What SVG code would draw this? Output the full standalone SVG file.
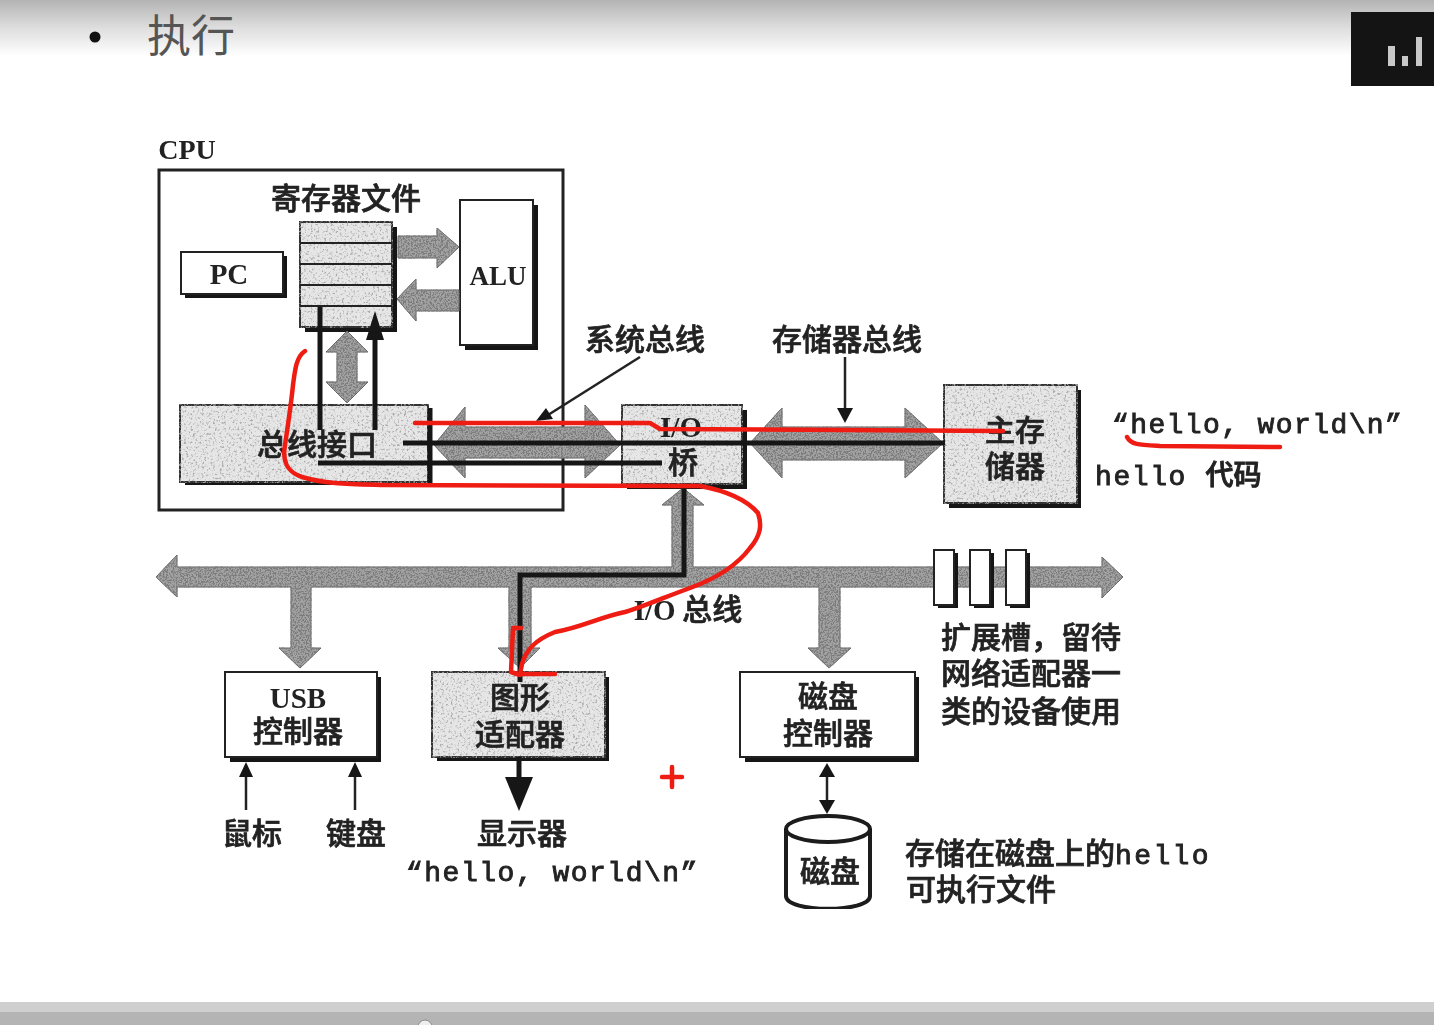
<svg xmlns="http://www.w3.org/2000/svg" width="1434" height="1025" viewBox="0 0 1434 1025">
<style>
text{font-family:"Noto Sans CJK SC","Liberation Sans",sans-serif;font-weight:500;font-size:30px;fill:#222;stroke:#222;stroke-width:.7;text-anchor:middle}
.ser{font-family:"Liberation Serif","Noto Sans CJK SC",serif;font-weight:700;font-size:29px;stroke-width:0}
.mono{font-family:"Liberation Mono","Noto Sans CJK SC",monospace;font-size:28px;font-weight:400;stroke:#222;stroke-width:.9;text-anchor:start}
.shadow{fill:#161616}
.box{fill:#fff;stroke:#222;stroke-width:2}
.light{fill:#e6e6e6;stroke:#333;stroke-width:2;filter:url(#grainL)}
.bus{fill:#a2a2a2;stroke:#666;stroke-width:1;filter:url(#grainD)}
.wire{fill:none;stroke:#161616;stroke-width:5}
.thin{fill:none;stroke:#222;stroke-width:2.5}
.head{fill:#161616}
.red{fill:none;stroke:#ee1c12;stroke-width:4.5;stroke-linecap:round;stroke-linejoin:round}
</style>
<defs>
<linearGradient id="top" x1="0" y1="0" x2="0" y2="1"><stop offset="0" stop-color="#b4b4b4"/><stop offset=".5" stop-color="#dedede"/><stop offset="1" stop-color="#fff"/></linearGradient>
<filter id="soft" x="0" y="0" width="100%" height="100%"><feGaussianBlur stdDeviation=".7"/></filter>
<filter id="grainL"><feTurbulence type="fractalNoise" baseFrequency=".45" numOctaves="3" seed="4" result="n"/><feColorMatrix in="n" type="matrix" values="0 0 0 0 .4 0 0 0 0 .4 0 0 0 0 .4 4 0 0 0 -2.1" result="g"/><feComposite in="g" in2="SourceGraphic" operator="in" result="c"/><feMerge><feMergeNode in="SourceGraphic"/><feMergeNode in="c"/></feMerge></filter>
<filter id="grainD"><feTurbulence type="fractalNoise" baseFrequency=".6" numOctaves="2" seed="9" result="n"/><feColorMatrix in="n" type="matrix" values="0 0 0 0 .2 0 0 0 0 .2 0 0 0 0 .2 7 0 0 0 -3.2" result="g"/><feComposite in="g" in2="SourceGraphic" operator="in" result="c"/><feMerge><feMergeNode in="SourceGraphic"/><feMergeNode in="c"/></feMerge></filter>
</defs>
<rect width="1434" height="1025" fill="#fff"/>
<rect id="top-band" width="1434" height="56" fill="url(#top)"/>
<g id="slide-title">
<circle cx="95" cy="37" r="5.5" fill="#111"/>
<text x="191" y="52" style="font-size:44px;font-weight:400;fill:#555;stroke:none">执行</text>
</g>
<g id="corner-badge">
<rect x="1351" y="12" width="83" height="74" fill="#141414"/>
<rect x="1388" y="46" width="7" height="20" fill="#c8c8c8"/><rect x="1402" y="56" width="6" height="10" fill="#c8c8c8"/><rect x="1416" y="37" width="6" height="29" fill="#c8c8c8"/>
</g>
<g filter="url(#soft)">
<g id="cpu"><rect x="159" y="170" width="404" height="340" fill="#fff" stroke="#222" stroke-width="3"/><text class="ser" x="187" y="159" style="font-size:28px">CPU</text></g>
<g id="registers">
<rect class="shadow" x="305" y="227" width="92" height="105"/>
<rect class="light" x="300" y="222" width="92" height="105"/>
<path d="M300 243H392M300 264H392M300 285H392M300 306H392" stroke="#222" stroke-width="2"/>
<text x="346" y="209">寄存器文件</text>
</g>
<g id="pc"><rect class="shadow" x="185" y="256" width="102" height="42"/><rect class="box" x="181" y="252" width="102" height="42"/><text class="ser" x="229" y="284">PC</text></g>
<g id="alu"><rect class="shadow" x="465" y="205" width="73" height="145"/><rect class="box" x="460" y="200" width="73" height="145"/><text class="ser" x="498" y="285" style="font-size:27px">ALU</text></g>
<g id="bus-interface"><rect class="shadow" x="185" y="410" width="247" height="75"/><rect class="light" x="180" y="405" width="248" height="77"/><text x="317" y="455">总线接口</text></g>
<g id="io-bridge"><rect class="shadow" x="627" y="410" width="120" height="79"/><rect class="light" x="622" y="405" width="120" height="79"/><text class="ser" x="681" y="437">I/O</text><text x="683" y="473">桥</text></g>
<g id="main-memory"><rect class="shadow" x="949" y="390" width="132" height="118"/><rect class="light" x="944" y="385" width="133" height="118"/><text x="1015" y="441">主存</text><text x="1015" y="477">储器</text></g>
<g id="usb-controller"><rect class="shadow" x="230" y="677" width="151" height="85"/><rect class="box" x="225" y="672" width="152" height="85"/><text class="ser" x="298" y="708">USB</text><text x="298" y="742">控制器</text></g>
<g id="graphics-adapter"><rect class="shadow" x="437" y="677" width="172" height="84"/><rect class="light" x="432" y="672" width="173" height="85"/><text x="520" y="708">图形</text><text x="520" y="745">适配器</text></g>
<g id="disk-controller"><rect class="shadow" x="745" y="677" width="174" height="85"/><rect class="box" x="740" y="672" width="175" height="85"/><text x="828" y="707">磁盘</text><text x="828" y="744">控制器</text></g>
<g id="disk">
<path d="M786 829V896C786 913 870 913 870 896V829" fill="#fff" stroke="#1a1a1a" stroke-width="4"/>
<ellipse cx="828" cy="829" rx="42" ry="13" fill="#fff" stroke="#1a1a1a" stroke-width="4"/>
<text x="830" y="882">磁盘</text>
</g>
<g id="connectors">
<path class="bus" d="M398 236H437V228L459 247L437 268V258H398Z"/>
<path class="bus" d="M397 299L416 279V290H459V311H416V321Z"/>
<path class="bus" d="M347 331L368 352H357V382H368L347 403L326 382H337V352H326Z"/>
<path class="bus" d="M434 445L465 407V427H585V405L620 445L585 478V458H465V478Z"/>
<path class="bus" d="M750 443L782 408V427H905V408L943 443L905 478V460H782V478Z"/>
<path class="bus" d="M156 577L177 555V567H672V505H662L683 488L704 505H693V567H1102V557L1123 577L1102 598V587H840V648H851L829 668L808 648H819V587H531V648H540L520 668L498 648H509V587H311V648H321L300 668L279 648H291V587H177V597Z"/>
<path class="wire" d="M320 307V430"/>
<path class="wire" d="M375 335V430"/>
<path class="head" d="M375 311L384 340H366Z"/>
<path class="wire" d="M430 408V484"/>
<path class="wire" d="M403 443H945"/>
<path class="wire" d="M318 463H662"/>
<path class="wire" d="M684 484V575H520V682" stroke-width="6"/>
<path class="thin" d="M640 357L548 415"/>
<path class="head" d="M536 421L546 408L553 419Z"/>
<path class="thin" d="M845 357V412"/>
<path class="head" d="M845 423L837 408H853Z"/>
<path class="thin" d="M246 810V772"/><path class="head" d="M246 762L253 777H239Z"/>
<path class="thin" d="M355 810V772"/><path class="head" d="M355 762L362 777H348Z"/>
<path class="wire" d="M519 757V785"/><path class="head" d="M519 811L505 777H533Z"/>
<path class="thin" d="M827 773V804"/><path class="head" d="M827 763L835 777H819Z"/><path class="head" d="M827 814L819 800H835Z"/>
</g>
<g id="expansion-slots">
<rect class="shadow" x="938" y="553" width="20" height="55"/><rect class="box" x="934" y="550" width="20" height="55"/>
<rect class="shadow" x="974" y="553" width="20" height="55"/><rect class="box" x="970" y="550" width="20" height="55"/>
<rect class="shadow" x="1010" y="553" width="20" height="55"/><rect class="box" x="1006" y="550" width="20" height="55"/>
</g>
<g id="labels">
<text x="645" y="350">系统总线</text>
<text x="847" y="350">存储器总线</text>
<text x="688" y="620"><tspan class="ser">I/O</tspan> 总线</text>
<text class="mono" x="1112" y="433" style="letter-spacing:1.4px">“hello, world\n”</text>
<text class="mono" x="1095" y="485" style="letter-spacing:1.6px">hello <tspan style="font-family:'Noto Sans CJK SC',sans-serif;font-weight:500;letter-spacing:0">代码</tspan></text>
<text x="1031" y="648">扩展槽，留待</text>
<text x="1031" y="684">网络适配器一</text>
<text x="1031" y="722">类的设备使用</text>
<text x="252" y="844">鼠标</text>
<text x="356" y="844">键盘</text>
<text x="522" y="844">显示器</text>
<text class="mono" x="406" y="881" style="letter-spacing:1.5px">“hello, world\n”</text>
<text x="905" y="864" style="text-anchor:start">存储在磁盘上的<tspan class="mono" style="font-size:28px;letter-spacing:2.4px">hello</tspan></text>
<text x="981" y="900">可执行文件</text>
</g>
</g>
<g id="annotations">
<path class="red" d="M415 423H650L660 429L1003 431"/>
<path class="red" d="M305 351C296 357 295 370 293 385C291 405 288 425 285 445C282 462 287 472 302 477C325 484 350 484 385 485L700 486C722 490 745 498 758 513C762 525 761 535 750 548C735 568 712 580 690 588C665 597 645 606 625 612C600 617 580 628 555 632C535 640 526 650 522 664L520 674H555"/>
<path class="red" d="M521 628H513L511 672L520 675"/>
<path class="red" d="M1127 437C1131 445 1140 445 1160 446L1280 447"/>
<path class="red" d="M662 777H682M672 767V787" stroke-width="3"/>
</g>
<g id="bottom-band">
<rect y="1002" width="1434" height="10" fill="#cfcfcf"/>
<rect y="1012" width="1434" height="13" fill="#b4b4b4"/>
<circle cx="425" cy="1027" r="7" fill="#eee" stroke="#888"/>
</g>
</svg>
